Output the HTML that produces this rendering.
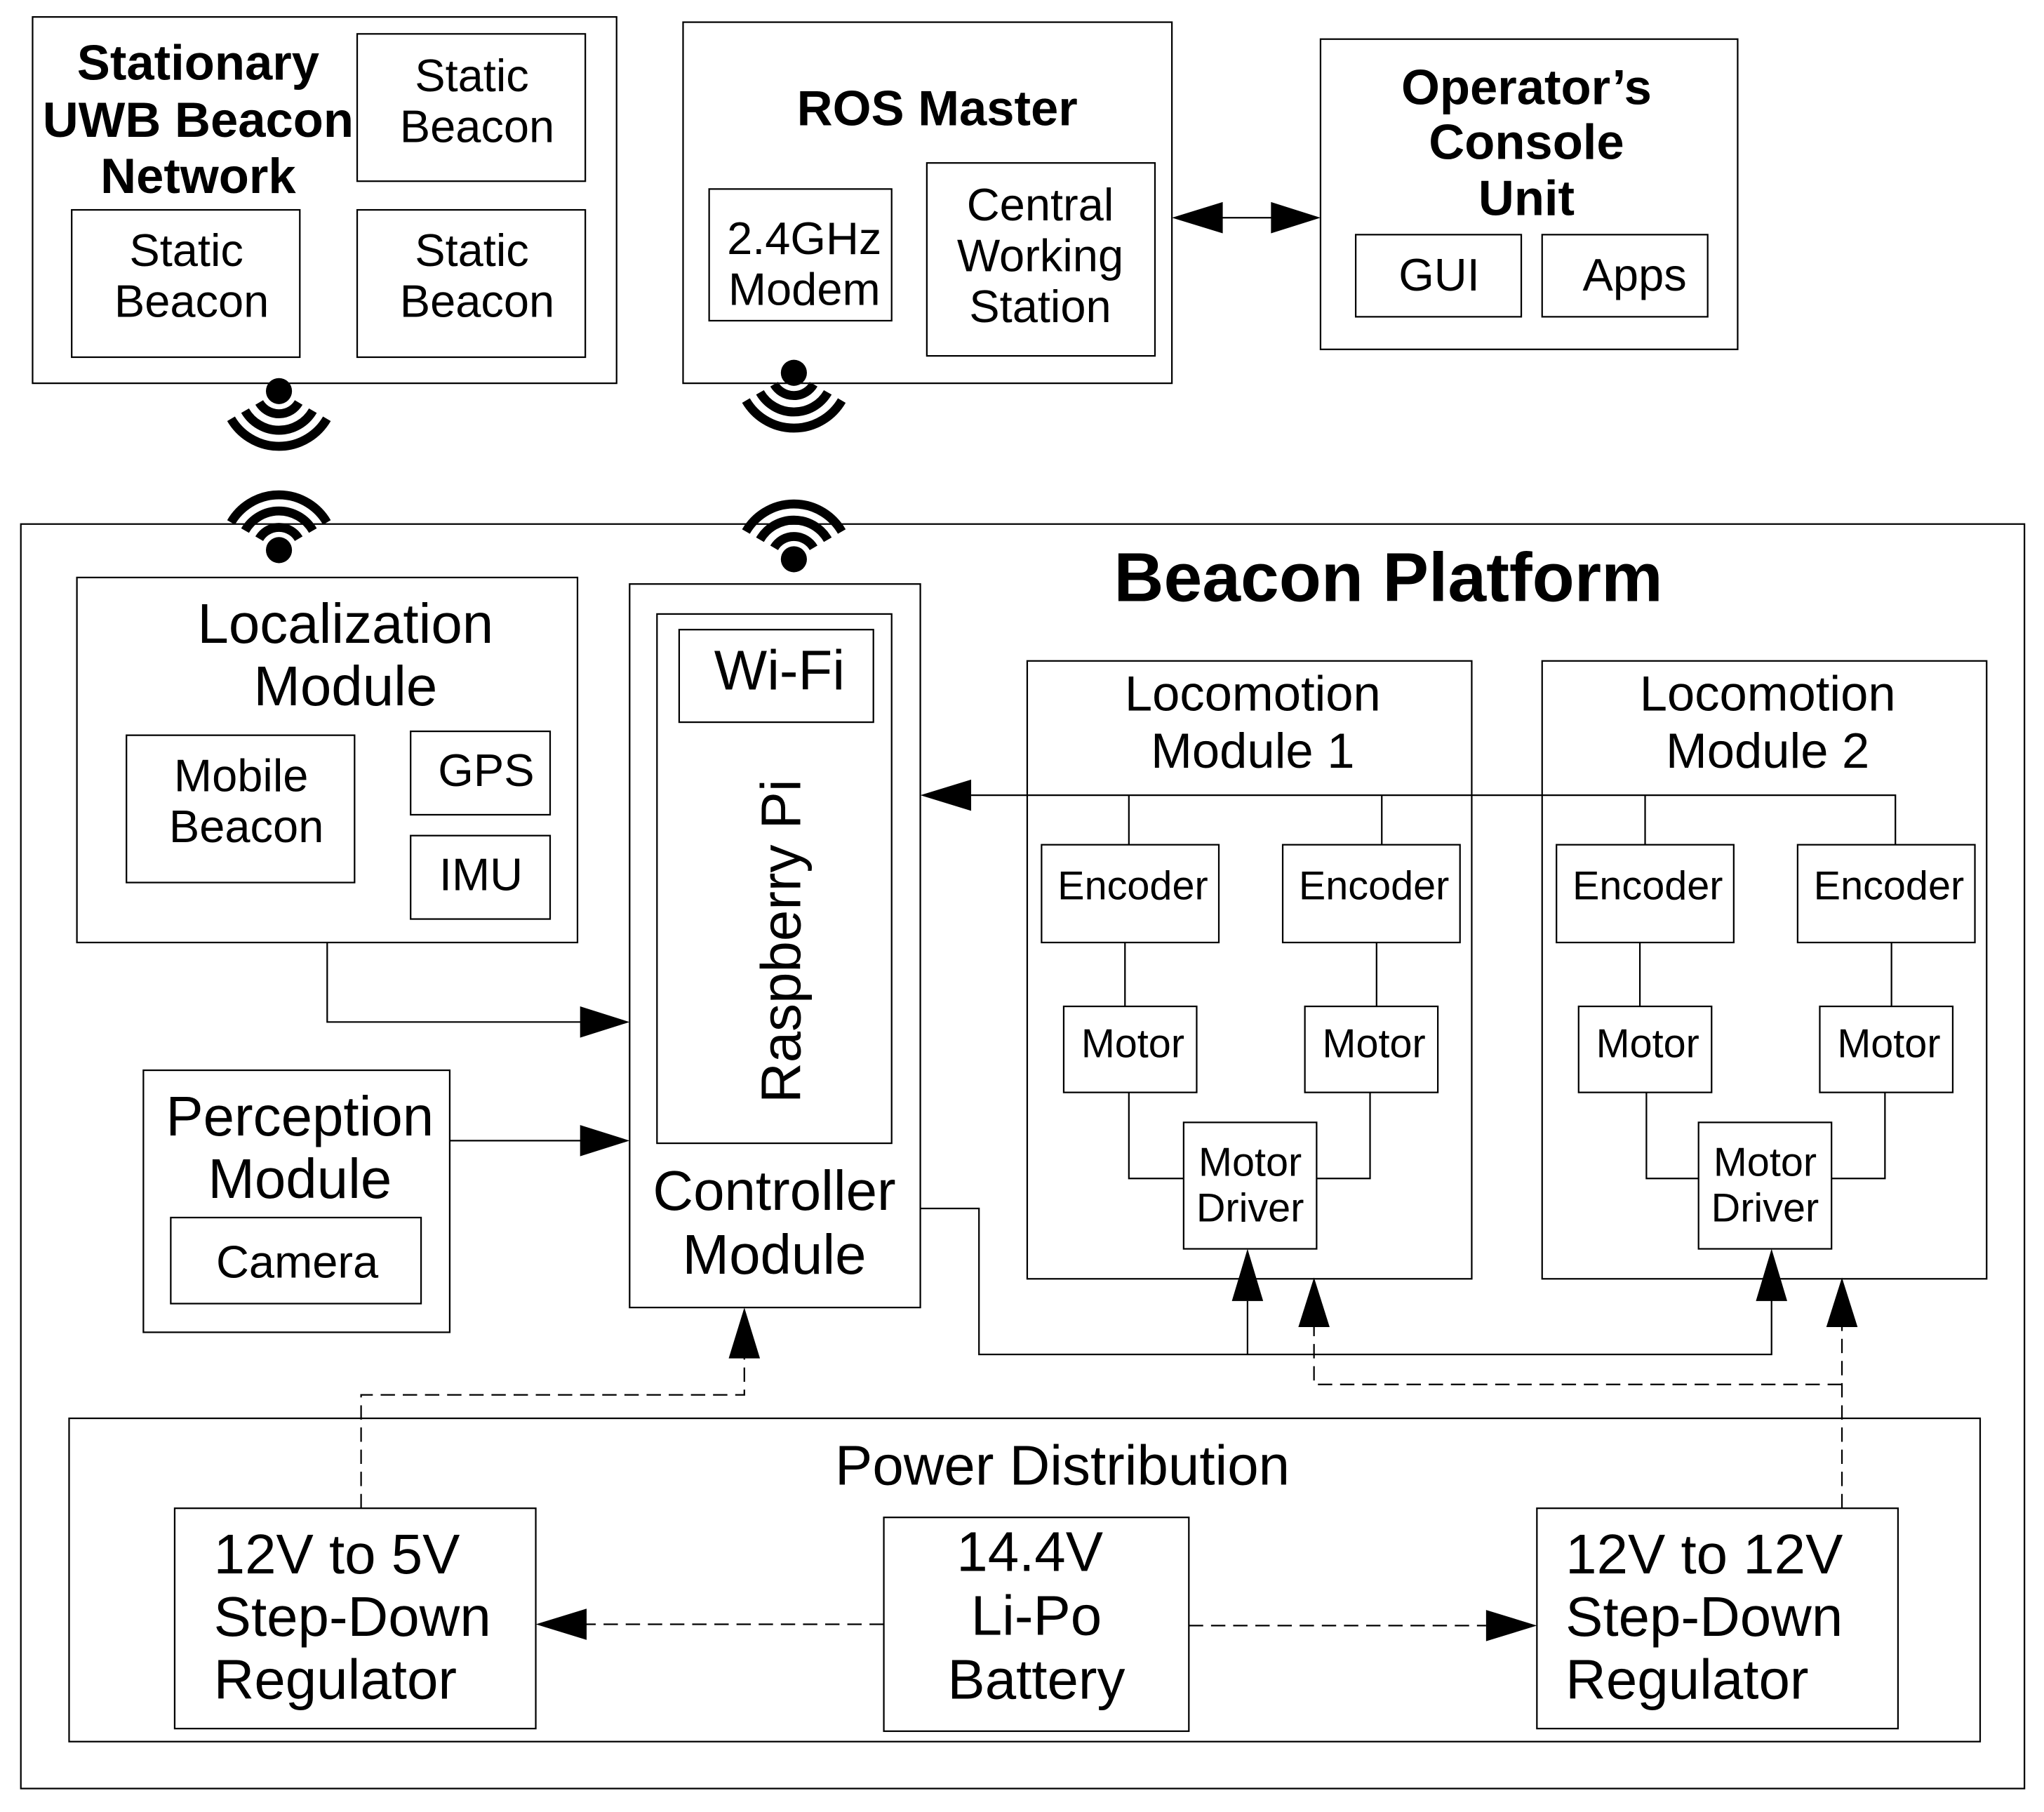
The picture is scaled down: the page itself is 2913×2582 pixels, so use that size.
<!DOCTYPE html>
<html><head><style>html,body{margin:0;padding:0;background:#fff}svg{display:block}</style></head><body>
<svg xmlns="http://www.w3.org/2000/svg" width="2913" height="2582" viewBox="0 0 1568 1390" preserveAspectRatio="none" font-family="Liberation Sans, sans-serif">
<defs>
<g id="wifi"><circle cx="0" cy="0" r="8" fill="#000"/>
<g fill="none" stroke="#000" stroke-width="5.5">
<path d="M-12.1,-7 A14,14 0 0 1 12.1,-7"/>
<path d="M-20.8,-12 A24,24 0 0 1 20.8,-12"/>
<path d="M-29.4,-17 A34,34 0 0 1 29.4,-17"/></g></g>
</defs>
<g fill="none" stroke="#000" stroke-width="1.2">
<rect x="25" y="13" width="448" height="281"/>
<rect x="274" y="26" width="175" height="113"/>
<rect x="55" y="161" width="175" height="113"/>
<rect x="274" y="161" width="175" height="113"/>
<rect x="524" y="17" width="375" height="277"/>
<rect x="544" y="145" width="140" height="101"/>
<rect x="711" y="125" width="175" height="148"/>
<rect x="1013" y="30" width="320" height="238"/>
<rect x="1040" y="180" width="127" height="63"/>
<rect x="1183" y="180" width="127" height="63"/>
<rect x="16" y="402" width="1537" height="970"/>
<rect x="59" y="443" width="384" height="280"/>
<rect x="97" y="564" width="175" height="113"/>
<rect x="315" y="561" width="107" height="64"/>
<rect x="315" y="641" width="107" height="64"/>
<rect x="110" y="821" width="235" height="201"/>
<rect x="131" y="934" width="192" height="66"/>
<rect x="483" y="448" width="223" height="555"/>
<rect x="504" y="471" width="180" height="406"/>
<rect x="521" y="483" width="149" height="71"/>
<rect x="788" y="507" width="341" height="474"/>
<rect x="799" y="648" width="136" height="75"/>
<rect x="984" y="648" width="136" height="75"/>
<rect x="816" y="772" width="102" height="66"/>
<rect x="1001" y="772" width="102" height="66"/>
<rect x="908" y="861" width="102" height="97"/>
<rect x="1183" y="507" width="341" height="474"/>
<rect x="1194" y="648" width="136" height="75"/>
<rect x="1379" y="648" width="136" height="75"/>
<rect x="1211" y="772" width="102" height="66"/>
<rect x="1396" y="772" width="102" height="66"/>
<rect x="1303" y="861" width="102" height="97"/>
<rect x="53" y="1088" width="1466" height="248"/>
<rect x="134" y="1157" width="277" height="169"/>
<rect x="678" y="1164" width="234" height="164"/>
<rect x="1179" y="1157" width="277" height="169"/>
<path d="M937,167 H976"/>
<path d="M251,723 V784 H446"/>
<path d="M345,875 H446"/>
<path d="M745,610 H1454 V648 M866,610 V648 M1060,610 V648 M1262,610 V648"/>
<path d="M863,723 V772 M1056,723 V772 M1258,723 V772 M1451,723 V772"/>
<path d="M866,838 V904 H908 M1051,838 V904 H1010 M1263,838 V904 H1303 M1446,838 V904 H1405"/>
<path d="M706,927 H751 V1039 H1359 V995 M957,1039 V998"/>
<g stroke-dasharray="11,6">
<path d="M277,1157 V1070 H571 V1042"/>
<path d="M1413,1157 V1018 M1413,1062 H1008 V1018"/>
<path d="M678,1246 H450"/>
<path d="M912,1247 H1140"/>
</g>
</g>
<g fill="#000">
<polygon points="899,167 938,155 938,179"/>
<polygon points="1013,167 975,155 975,179"/>
<polygon points="483,784 445,772 445,796"/>
<polygon points="483,875 445,863 445,887"/>
<polygon points="706,610 745,598 745,622"/>
<polygon points="957,958 945,998 969,998"/>
<polygon points="1359,958 1347,998 1371,998"/>
<polygon points="1008,980 996,1018 1020,1018"/>
<polygon points="1413,980 1401,1018 1425,1018"/>
<polygon points="571,1003 559,1042 583,1042"/>
<polygon points="411,1246 450,1234 450,1258"/>
<polygon points="1179,1247 1140,1235 1140,1259"/>
</g>
<use href="#wifi" transform="translate(214,422) scale(1.25)"/>
<use href="#wifi" transform="translate(609,429) scale(1.25)"/>
<use href="#wifi" transform="translate(214,300) rotate(180) scale(1.25)"/>
<use href="#wifi" transform="translate(609,286) rotate(180) scale(1.25)"/>
<g text-anchor="middle" fill="#000">
<g font-weight="bold" font-size="38">
<text x="152" y="61">Stationary</text><text x="152" y="105">UWB Beacon</text><text x="152" y="148">Network</text>
<text x="719" y="96">ROS Master</text>
<text x="1171" y="80">Operator’s</text><text x="1171" y="122">Console</text><text x="1171" y="165">Unit</text>
<text x="1065" y="461" font-size="53">Beacon Platform</text>
</g>
<g font-size="35">
<text x="362" y="70">Static</text><text x="366" y="109">Beacon</text>
<text x="143" y="204">Static</text><text x="147" y="243">Beacon</text>
<text x="362" y="204">Static</text><text x="366" y="243">Beacon</text>
<text x="617" y="195">2.4GHz</text><text x="617" y="234">Modem</text>
<text x="798" y="169">Central</text><text x="798" y="208">Working</text><text x="798" y="247">Station</text>
<text x="1104" y="223">GUI</text><text x="1254" y="223">Apps</text>
<text x="185" y="607">Mobile</text><text x="189" y="646">Beacon</text>
<text x="373" y="603">GPS</text><text x="369" y="683">IMU</text>
<text x="228" y="980">Camera</text>
</g>
<g font-size="43">
<text x="265" y="493">Localization</text><text x="265" y="541">Module</text>
<text x="230" y="871">Perception</text><text x="230" y="919">Module</text>
<text x="598" y="529">Wi-Fi</text>
<text x="594" y="928">Controller</text><text x="594" y="977">Module</text>
<text transform="translate(614,722) rotate(-90)">Raspberry Pi</text>
<text x="815" y="1139">Power Distribution</text>
<text x="790" y="1205">14.4V</text><text x="795" y="1254">Li-Po</text><text x="795" y="1303">Battery</text>
</g>
<g font-size="38">
<text x="961" y="545">Locomotion</text><text x="961" y="589">Module 1</text>
<text x="1356" y="545">Locomotion</text><text x="1356" y="589">Module 2</text>
</g>
<g font-size="31">
<text x="869" y="690">Encoder</text><text x="1054" y="690">Encoder</text>
<text x="1264" y="690">Encoder</text><text x="1449" y="690">Encoder</text>
<text x="869" y="811">Motor</text><text x="1054" y="811">Motor</text>
<text x="1264" y="811">Motor</text><text x="1449" y="811">Motor</text>
<text x="959" y="902">Motor</text><text x="959" y="937">Driver</text>
<text x="1354" y="902">Motor</text><text x="1354" y="937">Driver</text>
</g>
</g>
<g font-size="43" fill="#000">
<text x="164" y="1207">12V to 5V</text><text x="164" y="1255">Step-Down</text><text x="164" y="1303">Regulator</text>
<text x="1201" y="1207">12V to 12V</text><text x="1201" y="1255">Step-Down</text><text x="1201" y="1303">Regulator</text>
</g>
</svg>
</body></html>
